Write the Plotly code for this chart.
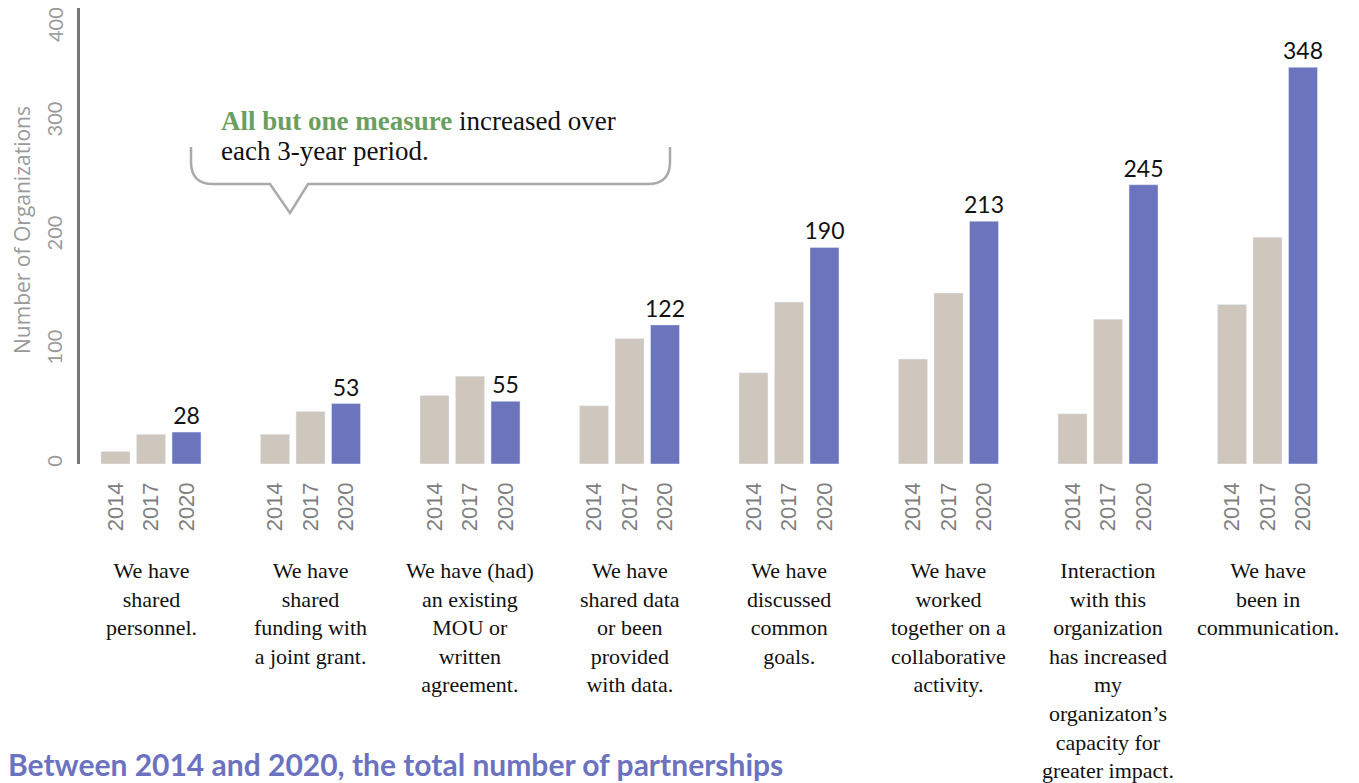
import plotly.graph_objects as go

# ---------------- data ----------------
years = ["2014", "2017", "2020"]
measures = [
    "We have<br>shared<br>personnel.",
    "We have<br>shared<br>funding with<br>a joint grant.",
    "We have (had)<br>an existing<br>MOU or<br>written<br>agreement.",
    "We have<br>shared data<br>or been<br>provided<br>with data.",
    "We have<br>discussed<br>common<br>goals.",
    "We have<br>worked<br>together on a<br>collaborative<br>activity.",
    "Interaction<br>with this<br>organization<br>has increased<br>my<br>organizaton’s<br>capacity for<br>greater impact.",
    "We have<br>been in<br>communication.",
]
v2014 = [11, 26, 60, 51, 80, 92, 44, 140]
v2017 = [26, 46, 77, 110, 142, 150, 127, 199]
v2020 = [28, 53, 55, 122, 190, 213, 245, 348]
y_ticks = [0, 100, 200, 300, 400]

# ---------------- styling ----------------
OFF = 8                      # page body margin of the html page
FW, FH = 1359 - OFF, 783 - OFF
PLOT_TOP, PLOT_BOT = 8, 464  # screen pixels
BEIGE = "#cfc6bd"
PURPLE = "#6c74bd"
GREEN = "#6b9f62"
GRAY_AX = "#777777"

def px_x(p):                 # screen px -> paper x
    return (p - OFF) / FW

def px_y(p):                 # screen px -> paper y
    return (PLOT_BOT - p) / (PLOT_BOT - PLOT_TOP)

fig = go.Figure()
layout_axes = {}
annotations = []

for k, name in enumerate(measures):
    cx = 151 + 159.5 * k
    left = cx - 53.25
    rng = [-0.5, 2.5]
    if k == 0:
        extra = (left - 80) / 35.5
        left = 80
        rng = [-0.5 - extra, 2.5]
    dom = [px_x(left), px_x(cx + 53.25)]
    sfx = "" if k == 0 else str(k + 1)
    xa, ya = "x" + sfx, "y" + sfx
    vals = [v2014[k], v2017[k], v2020[k]]
    fig.add_trace(go.Bar(
        x=years, y=vals, xaxis=xa, yaxis=ya,
        marker=dict(color=[BEIGE, BEIGE, PURPLE]),
        text=["", "", str(v2020[k])], textposition="outside",
        textfont=dict(family="Lato, Liberation Sans", size=23, color="#111111"),
        constraintext="none", cliponaxis=False,
        showlegend=False,
    ))
    layout_axes["xaxis" + sfx] = dict(
        domain=dom, anchor=ya, type="category", range=rng,
        showline=False, showgrid=False, zeroline=False, ticks="",
        tickangle=-90, ticklabelstandoff=13, automargin=False,
        tickfont=dict(family="Liberation Sans, Arial", size=22, color="#808080"),
    )
    if k == 0:
        layout_axes["yaxis"] = dict(
            range=[0, 400], anchor="x",
            tickvals=y_ticks[:-1], ticktext=[str(t) for t in y_ticks[:-1]],
            tickangle=-90, ticklabelstandoff=7,
            tickfont=dict(family="Lato, Liberation Sans", size=20, color="#9a9a9a"),
            showline=True, linecolor=GRAY_AX, linewidth=3,
            showgrid=False, zeroline=False, ticks="", automargin=False,
        )
    else:
        layout_axes["yaxis" + sfx] = dict(
            range=[0, 400], anchor=xa, visible=False,
            showgrid=False, zeroline=False,
        )
    # category label
    annotations.append(dict(
        x=0.5 if k else (cx - OFF) / FW, xref=f"{xa} domain" if k else "paper",
        y=px_y(556), yref="paper",
        text=name, showarrow=False, xanchor="center", yanchor="top",
        align="center",
        font=dict(family="Liberation Serif, Times New Roman, serif", size=22, color="#111111"),
    ))

# top y tick label (kept inside the page, like the reference)
annotations.append(dict(
    x=px_x(55), y=px_y(25), xref="paper", yref="paper",
    text=str(y_ticks[-1]), textangle=-90, showarrow=False,
    xanchor="center", yanchor="middle",
    font=dict(family="Lato, Liberation Sans", size=20, color="#9a9a9a"),
))

# y axis title
annotations.append(dict(
    x=px_x(22), y=px_y(230), xref="paper", yref="paper",
    text="Number of Organizations", textangle=-90, showarrow=False,
    xanchor="center", yanchor="middle", borderpad=0,
    font=dict(family="Open Sans, Lato", size=21, color="#9a9a9a"),
))

# callout text
annotations.append(dict(
    x=px_x(219), y=px_y(121), xref="paper", yref="paper",
    text=f"<b><span style='color:{GREEN}'>All but one measure</span></b> increased over",
    showarrow=False, xanchor="left", yanchor="middle",
    font=dict(family="Liberation Serif, Times New Roman, serif", size=27, color="#111111"),
))
annotations.append(dict(
    x=px_x(219), y=px_y(151), xref="paper", yref="paper",
    text="each 3-year period.",
    showarrow=False, xanchor="left", yanchor="middle",
    font=dict(family="Liberation Serif, Times New Roman, serif", size=27, color="#111111"),
))

# bottom headline
annotations.append(dict(
    x=px_x(6), y=px_y(764), xref="paper", yref="paper",
    text="<b>Between 2014 and 2020, the total number of partnerships</b>",
    showarrow=False, xanchor="left", yanchor="middle",
    font=dict(family="Lato, Open Sans, sans-serif", size=30, color="#6c72bf"),
))

# callout bubble outline
def P(x, y):
    return f"{px_x(x):.5f},{px_y(y):.5f}"
path = (
    f"M {P(191,147)} L {P(191,162)} Q {P(191,184)} {P(213,184)} "
    f"L {P(270,184)} L {P(290,213)} L {P(308,184)} L {P(648,184)} "
    f"Q {P(670,184)} {P(670,162)} L {P(670,147)}"
)
shapes = [dict(type="path", xref="paper", yref="paper", path=path,
               line=dict(color="#aaaaaa", width=2.5))]

fig.update_layout(
    width=FW, height=FH,
    margin=dict(l=0, r=0, t=PLOT_TOP - OFF, b=FH - (PLOT_BOT - OFF), pad=0,
                autoexpand=False),
    paper_bgcolor="white", plot_bgcolor="white",
    bargap=0.183,
    annotations=annotations,
    shapes=shapes,
    **layout_axes,
)

fig.write_html("out.html")
